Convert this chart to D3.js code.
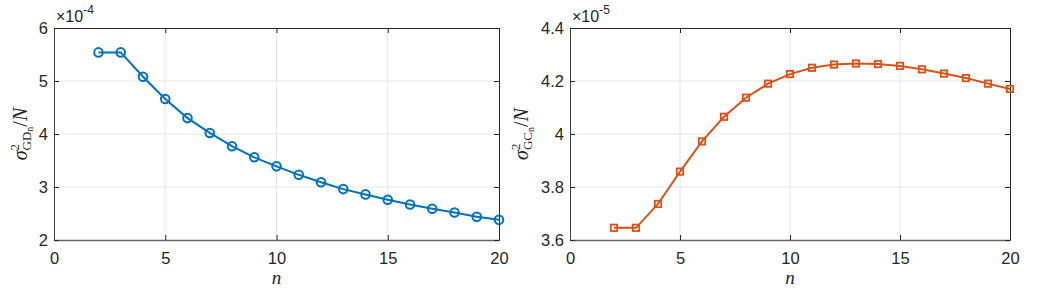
<!DOCTYPE html>
<html>
<head>
<meta charset="utf-8">
<script src="https://cdn.jsdelivr.net/npm/d3@7"></script>
<style>
  body { margin: 0; background: #fff; }
  svg { display: block; }
</style>
</head>
<body>
<script>
var width = 1046
var height = 294

// n values shared by both panels
var nValues = [2, 3, 4, 5, 6, 7, 8, 9, 10, 11, 12, 13, 14, 15, 16, 17, 18, 19, 20]
// sigma^2_GDn / N, in units of 1e-4
var gdValues = [5.54, 5.54, 5.08, 4.66, 4.30, 4.02, 3.77, 3.56, 3.39, 3.23, 3.09, 2.96, 2.86, 2.76, 2.67, 2.59, 2.52, 2.44, 2.38]
// sigma^2_GCn / N, in units of 1e-5
var gcValues = [3.646, 3.646, 3.736, 3.858, 3.972, 4.065, 4.137, 4.190, 4.226, 4.250, 4.262, 4.266, 4.264, 4.257, 4.244, 4.228, 4.211, 4.190, 4.170]

var xTicks = [0, 5, 10, 15, 20]
var gdTicks = [2, 3, 4, 5, 6]
var gcTicks = [3.6, 3.8, 4, 4.2, 4.4]

var sansFont = '"Liberation Sans", Arial, sans-serif'
var serifFont = '"Liberation Serif", "DejaVu Serif", serif'

var svg = d3.select('body').append('svg')
    .attr('width', width)
    .attr('height', height)

var panels = [
  { left: 54, right: 499, values: gdValues, ticks: gdTicks, domain: [2, 6], fmt: d3.format('d'),
    color: '#0072BD', marker: 'circle', exp: '-4', sub: 'GD', labelX: 27 },
  { left: 570, right: 1010, values: gcValues, ticks: gcTicks, domain: [3.6, 4.4], fmt: d => d === 4 ? '4' : d3.format('.1f')(d),
    color: '#D95319', marker: 'square', exp: '-5', sub: 'GC', labelX: 528 }
]

var plotTop = 28, plotBottom = 240

panels.forEach(function(p) {
  var x = d3.scaleLinear().domain([0, 20]).range([p.left, p.right])
  var y = d3.scaleLinear().domain(p.domain).range([plotBottom, plotTop])
  var g = svg.append('g')

  // grid
  g.append('g').selectAll('line').data(xTicks.slice(1, -1)).join('line')
      .attr('x1', d => x(d)).attr('x2', d => x(d)).attr('y1', plotTop).attr('y2', plotBottom)
      .attr('stroke', '#e6e6e6').attr('stroke-width', 1)
  g.append('g').selectAll('line').data(p.ticks.slice(1, -1)).join('line')
      .attr('y1', d => y(d)).attr('y2', d => y(d)).attr('x1', p.left).attr('x2', p.right)
      .attr('stroke', '#e6e6e6').attr('stroke-width', 1)

  // axes, ticks pointing inwards on all four sides
  var xb = g.append('g').attr('transform', `translate(0,${plotBottom})`)
      .call(d3.axisBottom(x).tickValues(xTicks).tickSize(-5).tickPadding(12).tickSizeOuter(0))
  var xt = g.append('g').attr('transform', `translate(0,${plotTop})`)
      .call(d3.axisTop(x).tickValues(xTicks).tickSize(-5).tickFormat('').tickSizeOuter(0))
  var yl = g.append('g').attr('transform', `translate(${p.left},0)`)
      .call(d3.axisLeft(y).tickValues(p.ticks).tickSize(-5).tickPadding(6).tickFormat(p.fmt).tickSizeOuter(0))
  var yr = g.append('g').attr('transform', `translate(${p.right},0)`)
      .call(d3.axisRight(y).tickValues(p.ticks).tickSize(-5).tickFormat('').tickSizeOuter(0))
  ;[xb, xt, yl, yr].forEach(a => {
    a.select('.domain').attr('stroke', '#262626').attr('stroke-width', 1)
    a.selectAll('.tick line').attr('stroke', '#262626')
    a.selectAll('.tick text').attr('font-family', sansFont).attr('font-size', 16.5).attr('fill', '#262626')
  })
  xb.select('.domain').attr('stroke', '#666').attr('stroke-width', 1.5)
  yl.select('.domain').attr('stroke', '#444')
  yl.selectAll('.tick text').attr('dy', '0.36em')

  // data line
  var line = d3.line().x((d, i) => x(nValues[i])).y(d => y(d))
  g.append('path').datum(p.values)
      .attr('fill', 'none').attr('stroke', p.color).attr('stroke-width', 2)
      .attr('d', line)

  if (p.marker === 'circle') {
    g.append('g').selectAll('circle').data(p.values).join('circle')
        .attr('cx', (d, i) => x(nValues[i])).attr('cy', d => y(d)).attr('r', 4.3)
        .attr('fill', 'none').attr('stroke', p.color).attr('stroke-width', 2)
  } else {
    g.append('g').selectAll('rect').data(p.values).join('rect')
        .attr('x', (d, i) => x(nValues[i]) - 3.2).attr('y', d => y(d) - 3.2)
        .attr('width', 6.4).attr('height', 6.4)
        .attr('fill', 'none').attr('stroke', p.color).attr('stroke-width', 1.8)
  }

  // exponent
  var ex = g.append('text').attr('x', p.left + 2).attr('y', 22)
      .attr('font-family', sansFont).attr('font-size', 16).attr('fill', '#262626')
  ex.append('tspan').text('\u00d710')
  ex.append('tspan').attr('dy', -8).attr('font-size', 12).text(p.exp)

  // x label
  g.append('text').attr('x', (p.left + p.right) / 2).attr('y', 284)
      .attr('text-anchor', 'middle')
      .attr('font-family', serifFont).attr('font-style', 'italic')
      .attr('font-size', 19).attr('fill', '#262626').text('n')

  // y label
  var yt = g.append('text')
      .attr('transform', `translate(${p.labelX},134) rotate(-90)`)
      .attr('text-anchor', 'middle')
      .attr('font-family', serifFont)
      .attr('font-size', 20).attr('fill', '#262626')
  yt.append('tspan').attr('font-style', 'italic').text('\u03c3')
  yt.append('tspan').attr('font-size', 13).attr('dy', -8).text('2')
  yt.append('tspan').attr('font-size', 13).attr('dx', -6.5).attr('dy', 12).text(p.sub)
  yt.append('tspan').attr('font-size', 10).attr('dy', 2).text('n')
  yt.append('tspan').attr('font-size', 20).attr('dy', -6).text('/')
  yt.append('tspan').attr('font-size', 20).attr('font-style', 'italic').text('N')
})
</script>
</body>
</html>
